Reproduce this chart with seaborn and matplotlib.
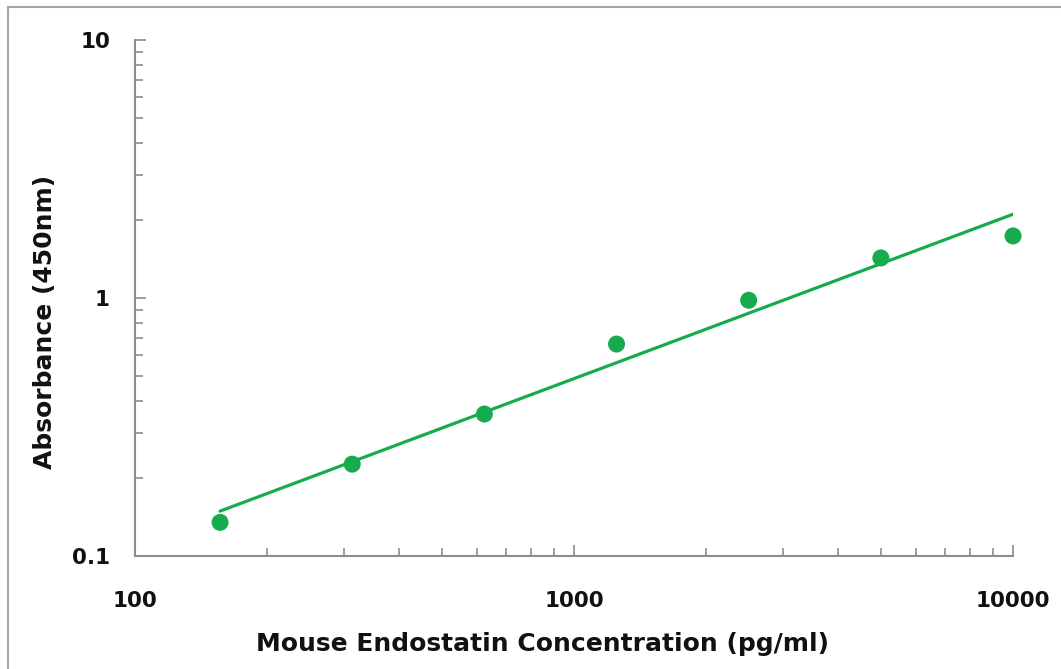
import numpy as np
import pandas as pd
import matplotlib
matplotlib.use("Agg")
import matplotlib.pyplot as plt
import matplotlib.ticker as mticker
from matplotlib.patches import Rectangle
import seaborn as sns

# --- data ---
concentration = [156.25, 312.5, 625, 1250, 2500, 5000, 10000]
absorbance = [0.135, 0.227, 0.355, 0.663, 0.98, 1.43, 1.74]
x_ticks = [100, 1000, 10000]
y_ticks = [0.1, 1, 10]

GREEN = "#17ab50"
GRAY = "#8c8c8c"
INK = "#111111"

sns.set_theme(style="white")
plt.rcParams["font.family"] = ["DejaVu Sans"]
plt.rcParams["font.weight"] = "bold"
plt.rcParams["text.color"] = INK
plt.rcParams["axes.labelcolor"] = INK

df = pd.DataFrame({"conc": concentration, "od": absorbance})

# power fit (straight line in log-log), like an Excel trendline
slope, icpt = np.polyfit(np.log10(df["conc"]), np.log10(df["od"]), 1)
fit_x = np.logspace(np.log10(df["conc"].min()), np.log10(df["conc"].max()), 50)
fit = pd.DataFrame({"conc": fit_x, "od": 10 ** (icpt + slope * np.log10(fit_x))})

fig = plt.figure(figsize=(10.61, 6.69), dpi=100)
# outer chart frame (only top/left edges fall inside the picture)
fig.add_artist(Rectangle((8 / 1061, -0.1), 1.2, 1.1 - 7 / 669, transform=fig.transFigure,
                         fill=False, edgecolor="#a6a6a6", lw=1.5))
ax = fig.add_axes([0.1272, 0.1689, 0.8276, 0.7713])

sns.lineplot(data=fit, x="conc", y="od", ax=ax, color=GREEN, lw=2.3)
sns.scatterplot(data=df, x="conc", y="od", ax=ax, color=GREEN, s=150,
                edgecolor="none", zorder=3, clip_on=False)

ax.set_xscale("log")
ax.set_yscale("log")
ax.set_xlim(100, 10000)
ax.set_ylim(0.1, 10)
ax.set_xticks(x_ticks)
ax.set_yticks(y_ticks)
ax.xaxis.set_major_formatter(mticker.FuncFormatter(lambda v, _: f"{v:g}"))
ax.yaxis.set_major_formatter(mticker.FuncFormatter(lambda v, _: f"{v:g}"))
ax.xaxis.set_minor_locator(mticker.LogLocator(base=10, subs=np.arange(2, 10)))
ax.yaxis.set_minor_locator(mticker.LogLocator(base=10, subs=np.arange(2, 10)))
ax.xaxis.set_minor_formatter(mticker.NullFormatter())
ax.yaxis.set_minor_formatter(mticker.NullFormatter())

ax.tick_params(axis="both", which="both", direction="in", color=GRAY, width=1.2,
               left=True, bottom=True, labelcolor=INK)
ax.tick_params(axis="both", which="major", length=8, labelsize=15.5)
ax.tick_params(axis="both", which="minor", length=6)
ax.tick_params(axis="x", which="major", pad=25)
ax.tick_params(axis="y", which="major", pad=18)

for side in ["top", "right"]:
    ax.spines[side].set_visible(False)
for side in ["left", "bottom"]:
    ax.spines[side].set_color(GRAY)
    ax.spines[side].set_linewidth(1.5)

ax.set_xlabel("Mouse Endostatin Concentration (pg/ml)", fontsize=18, fontweight="bold")
ax.set_ylabel("Absorbance (450nm)", fontsize=18, fontweight="bold")
ax.xaxis.set_label_coords(0.4636, -0.148)
ax.yaxis.set_label_coords(-0.089, 0.4535)

fig.savefig("out.png", dpi=100)
